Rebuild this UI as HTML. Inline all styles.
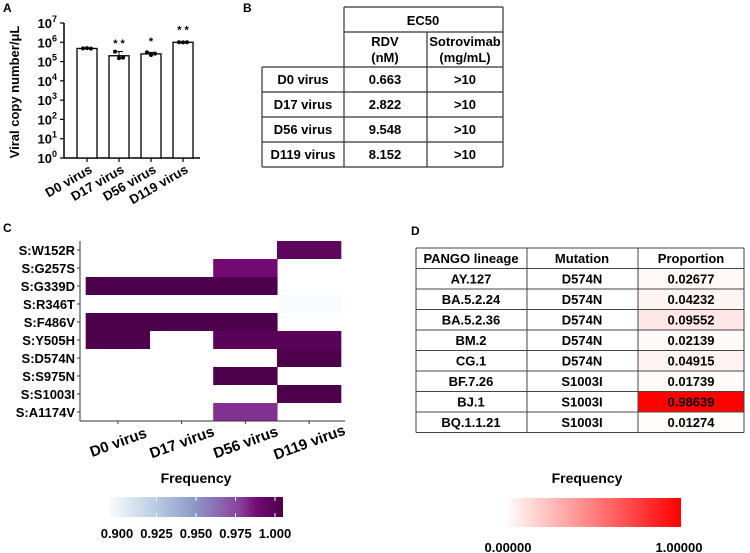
<!DOCTYPE html>
<html><head><meta charset="utf-8"><style>
body{margin:0;background:#fff;}
svg{display:block;font-family:"Liberation Sans",Arial,sans-serif;font-weight:bold;}
</style></head><body>
<svg id="fig" width="750" height="553" viewBox="0 0 750 553">
<defs>
<linearGradient id="gPurple" x1="0" x2="1" y1="0" y2="0">
<stop offset="0" stop-color="#f7fbfd"/><stop offset="0.25" stop-color="#bcd0e6"/><stop offset="0.5" stop-color="#8c96c6"/><stop offset="0.75" stop-color="#88419d"/><stop offset="0.85" stop-color="#720a72"/><stop offset="1" stop-color="#4d004b"/>
</linearGradient>
<linearGradient id="gRed" x1="0" x2="1" y1="0" y2="0">
<stop offset="0" stop-color="#ffffff"/><stop offset="1" stop-color="#ff0000"/>
</linearGradient>
</defs>
<g id="panelA"></g>
<g id="panelB"></g>
<g id="panelC"></g>
<g id="panelD"></g>
</svg>
<script>
const NS="http://www.w3.org/2000/svg";
// Panel A data
const aCategories=["D0 virus","D17 virus","D56 virus","D119 virus"];
const aMeans=[480000,200000,250000,1000000];
const aPoints=[[480000,500000,470000],[330000,150000,160000],[300000,220000,260000],[1000000,990000,1010000]];
const aStars=["","* *","*","* *"];
const aTicks=[0,1,2,3,4,5,6,7];
// Panel B data
const bRows=["D0 virus","D17 virus","D56 virus","D119 virus"];
const bRdv=["0.663","2.822","9.548","8.152"];
const bSotro=[">10",">10",">10",">10"];
// Panel C data
const cMutations=["S:W152R","S:G257S","S:G339D","S:R346T","S:F486V","S:Y505H","S:D574N","S:S975N","S:S1003I","S:A1174V"];
const cSamples=["D0 virus","D17 virus","D56 virus","D119 virus"];
const cValues=[
[null,null,null,0.993],
[null,null,0.985,null],
[1.0,1.0,1.0,null],
[null,null,null,0.9],
[1.0,1.0,1.0,null],
[1.0,null,0.995,0.995],
[null,null,null,1.0],
[null,null,1.0,null],
[null,null,null,1.0],
[null,null,0.978,null]];
const cLegendTicks=["0.900","0.925","0.950","0.975","1.000"];
// Panel D data
const dLineages=["AY.127","BA.5.2.24","BA.5.2.36","BM.2","CG.1","BF.7.26","BJ.1","BQ.1.1.21"];
const dMutations=["D574N","D574N","D574N","D574N","D574N","S1003I","S1003I","S1003I"];
const dProportions=[0.02677,0.04232,0.09552,0.02139,0.04915,0.01739,0.98639,0.01274];

function mk(parent,tag,attrs,text){const e=document.createElementNS(NS,tag);for(const k in attrs)e.setAttribute(k,attrs[k]);if(text!==undefined)e.textContent=text;parent.appendChild(e);return e;}

// ---- Panel A
const A=document.getElementById('panelA');
let t=mk(A,'text',{x:3,y:12,'font-size':12},'A');


const ay0=158,ay7=23;
const ay=v=>ay0-(Math.log10(v)/7)*(ay0-ay7);
const ax=i=>87+i*32;
let l=mk(A,'line',{x1:64,y1:ay7,x2:64,y2:ay0,stroke:'#000','stroke-width':1.5});


l=mk(A,'line',{x1:64,y1:ay0,x2:200,y2:ay0,stroke:'#000','stroke-width':1.5});


aTicks.forEach(p=>{const y=ay0-(p/7)*(ay0-ay7);
 mk(A,'line',{x1:60,y1:y,x2:64,y2:y,stroke:'#000','stroke-width':1.2});
 const tx=mk(A,'text',{x:57,y:y+5,'font-size':13,'text-anchor':'end'});
 
 
 tx.textContent='10';mk(tx,'tspan',{dy:-6,'font-size':9},String(p));});
t=mk(A,'text',{x:0,y:0,'font-size':13,'text-anchor':'middle',transform:'translate(19,92) rotate(-90)'},'Viral copy number/μL');


aCategories.forEach((c,i)=>{const cx=ax(i);
 const b=mk(A,'rect',{x:cx-10,y:ay(aMeans[i]),width:20,height:ay0-ay(aMeans[i]),fill:'#fff',stroke:'#000','stroke-width':1.3});
 
 
 const pts=aPoints[i];const mx=Math.max(...pts);
 mk(A,'line',{x1:cx,y1:ay(mx),x2:cx,y2:ay(aMeans[i]),stroke:'#000','stroke-width':1});
 mk(A,'line',{x1:cx-4,y1:ay(mx),x2:cx+4,y2:ay(mx),stroke:'#000','stroke-width':1});
 pts.forEach((p,j)=>{const d=mk(A,'circle',{cx:cx-4+j*4,cy:ay(p),r:2,fill:'#000'});
  
  });
 if(aStars[i]){const s=mk(A,'text',{x:cx,y:ay(aMeans[i])-9,'font-size':11,'text-anchor':'middle'},aStars[i]);
  
  }
 mk(A,'line',{x1:cx,y1:ay0,x2:cx,y2:ay0+4,stroke:'#000','stroke-width':1.2});
 const lb=mk(A,'text',{x:0,y:0,'font-size':13,'text-anchor':'end',transform:`translate(${cx+6},${ay0+14}) rotate(-30)`},c);
 
 
});

// ---- Panel B
const B=document.getElementById('panelB');
t=mk(B,'text',{x:243,y:12,'font-size':12},'B');


const by=[7,32,67,92,117,142,167];
const st={stroke:'#333','stroke-width':1.2};
mk(B,'line',{x1:344,y1:7,x2:503,y2:7,...st});
mk(B,'line',{x1:344,y1:32,x2:503,y2:32,...st});
for(let r=2;r<by.length;r++)mk(B,'line',{x1:262,y1:by[r],x2:503,y2:by[r],...st});
mk(B,'line',{x1:262,y1:67,x2:262,y2:167,...st});
mk(B,'line',{x1:344,y1:7,x2:344,y2:167,...st});
mk(B,'line',{x1:427,y1:32,x2:427,y2:167,...st});
mk(B,'line',{x1:503,y1:7,x2:503,y2:167,...st});
t=mk(B,'text',{x:423,y:25,'font-size':13,'text-anchor':'middle'},'EC50');


mk(B,'text',{x:385,y:46,'font-size':13,'text-anchor':'middle'},'RDV');
mk(B,'text',{x:385,y:62,'font-size':13,'text-anchor':'middle'},'(nM)');
mk(B,'text',{x:465,y:46,'font-size':13,'text-anchor':'middle'},'Sotrovimab');
mk(B,'text',{x:465,y:62,'font-size':13,'text-anchor':'middle'},'(mg/mL)');
bRows.forEach((r,i)=>{const y=by[i+2]+17;
 const a=mk(B,'text',{x:303,y:y,'font-size':13,'text-anchor':'middle'},r);
 
 
 const b=mk(B,'text',{x:385,y:y,'font-size':13,'text-anchor':'middle'},bRdv[i]);
 
 
 const c=mk(B,'text',{x:465,y:y,'font-size':13,'text-anchor':'middle'},bSotro[i]);
 
 
});

// ---- Panel C
const C=document.getElementById('panelC');
t=mk(C,'text',{x:3,y:232,'font-size':12},'C');


const cx0=86,cw=63.75,cy0=241,ch=18;
function purple(v){const stops=[[0,[247,251,253]],[0.25,[188,208,230]],[0.5,[140,150,198]],[0.75,[136,65,157]],[0.85,[114,10,114]],[1,[77,0,75]]];
 let f=Math.max(0,Math.min(1,(v-0.9)/0.1));
 for(let i=1;i<stops.length;i++){if(f<=stops[i][0]){const a=stops[i-1],b=stops[i];const k=(f-a[0])/(b[0]-a[0]);
  return 'rgb('+a[1].map((c,j)=>Math.round(c+(b[1][j]-c)*k)).join(',')+')';}}
 return 'rgb(77,0,75)';}
cValues.forEach((row,r)=>row.forEach((v,c)=>{if(v===null)return;
 const cell=mk(C,'rect',{x:cx0+c*cw-0.3,y:cy0+r*ch,width:cw+0.6,height:ch,fill:purple(v)});
 
 }));
l=mk(C,'line',{x1:80,y1:cy0,x2:80,y2:421,stroke:'#333','stroke-width':1});


l=mk(C,'line',{x1:80,y1:421,x2:345,y2:421,stroke:'#333','stroke-width':1});


cMutations.forEach((m,r)=>{const y=cy0+r*ch+ch/2;
 mk(C,'line',{x1:77,y1:y,x2:80,y2:y,stroke:'#333'});
 const tx=mk(C,'text',{x:75,y:y+5,'font-size':13,'text-anchor':'end'},m);
 
 });
cSamples.forEach((s,c)=>{const x=cx0+c*cw+cw/2;
 mk(C,'line',{x1:x,y1:421,x2:x,y2:424,stroke:'#333'});
 const tx=mk(C,'text',{x:0,y:0,'font-size':15,'text-anchor':'middle',transform:`translate(${x+2},${447}) rotate(-20)`},s);
 
 });
t=mk(C,'text',{x:196,y:483,'font-size':14,'text-anchor':'middle'},'Frequency');


let cb=mk(C,'rect',{x:109,y:497,width:174,height:20,fill:'url(#gPurple)'});


cLegendTicks.forEach((tk,i)=>{const x=109+8+i*(174-16)/4;
 mk(C,'line',{x1:x,y1:497,x2:x,y2:501,stroke:'#fff'});mk(C,'line',{x1:x,y1:513,x2:x,y2:517,stroke:'#fff'});
 const tx=mk(C,'text',{x:x,y:538,'font-size':13,'text-anchor':'middle'},tk);
 
 });

// ---- Panel D
const D=document.getElementById('panelD');
t=mk(D,'text',{x:411,y:235,'font-size':12},'D');


const dx=[416,527,638,744];const dy0=248,dh=20.5;const nr=dLineages.length+1;
dProportions.forEach((p,i)=>{const g=Math.round(255*(1-p));
 const r=mk(D,'rect',{x:638,y:dy0+(i+1)*dh,width:106,height:dh,fill:`rgb(255,${g},${g})`});
 
 });
for(let r=0;r<=nr;r++)mk(D,'line',{x1:416,y1:dy0+r*dh,x2:744,y2:dy0+r*dh,stroke:'#444','stroke-width':1});
dx.forEach(x=>mk(D,'line',{x1:x,y1:dy0,x2:x,y2:dy0+nr*dh,stroke:'#444','stroke-width':1}));
[['PANGO lineage',471],['Mutation',582],['Proportion',691]].forEach(([h,x])=>{
 const tx=mk(D,'text',{x:x,y:dy0+15,'font-size':13,'text-anchor':'middle'},h);
 
 });
dLineages.forEach((ln,i)=>{const y=dy0+(i+1)*dh+15;
 let a=mk(D,'text',{x:471,y:y,'font-size':13,'text-anchor':'middle'},ln);
 
 
 a=mk(D,'text',{x:582,y:y,'font-size':13,'text-anchor':'middle'},dMutations[i]);
 
 
 a=mk(D,'text',{x:691,y:y,'font-size':13,'text-anchor':'middle'},dProportions[i].toFixed(5));
 
 });
t=mk(D,'text',{x:587,y:483,'font-size':14,'text-anchor':'middle'},'Frequency');


cb=mk(D,'rect',{x:505,y:498,width:176,height:29,fill:'url(#gRed)'});


t=mk(D,'text',{x:508,y:552,'font-size':13,'text-anchor':'middle'},'0.00000');


t=mk(D,'text',{x:679,y:552,'font-size':13,'text-anchor':'middle'},'1.00000');


</script>
</body></html>
